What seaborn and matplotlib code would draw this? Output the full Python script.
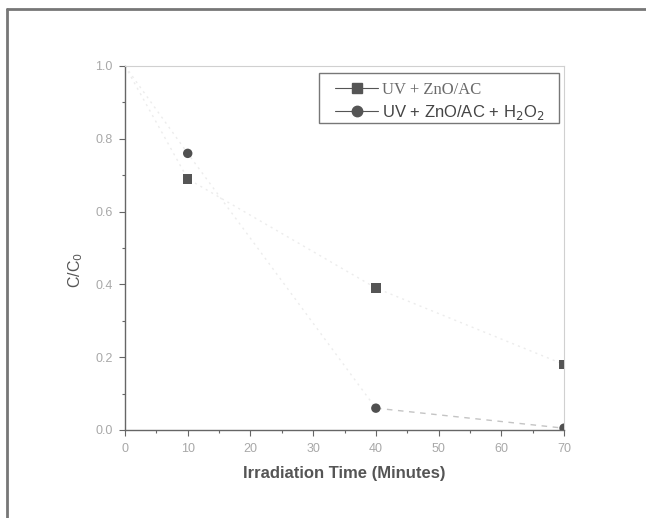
import matplotlib
matplotlib.use("Agg")
import matplotlib.pyplot as plt
from matplotlib.lines import Line2D
from matplotlib.patches import Rectangle
import seaborn as sns
import pandas as pd

# Data
time_min = [0, 10, 40, 70]
uv_zno_ac = [1.0, 0.69, 0.39, 0.18]
uv_zno_ac_h2o2 = [1.0, 0.76, 0.06, 0.005]
series_names = ["UV + ZnO/AC", "UV + ZnO/AC + H$_2$O$_2$"]

sns.set_theme(style="white")
plt.rcParams['font.family'] = ['Liberation Sans', 'DejaVu Sans']

fig = plt.figure(figsize=(6.46, 5.18), dpi=100)
ax = fig.add_axes([125/646, 1 - 430/518, (564-125)/646, (430-66)/518])

df = pd.DataFrame({
    "t": time_min * 2,
    "c": uv_zno_ac + uv_zno_ac_h2o2,
    "s": [series_names[0]] * len(time_min) + [series_names[1]] * len(time_min),
})

# faint connecting lines
ax.plot(time_min, uv_zno_ac, color="#ececec", lw=1.0, ls=(0, (1.5, 3)), zorder=1)
ax.plot(time_min[:3], uv_zno_ac_h2o2[:3], color="#ececec", lw=1.0, ls=(0, (1.5, 3)), zorder=1)
ax.plot(time_min[2:], uv_zno_ac_h2o2[2:], color="#c4c4c4", lw=1.0, ls=(0, (4, 4)), zorder=1)

mk = df[df["t"] > 0]
sns.scatterplot(data=mk, x="t", y="c", style="s", markers={series_names[0]: "s", series_names[1]: "o"},
                hue="s", palette={series_names[0]: "#555555", series_names[1]: "#505050"},
                s=46, edgecolor="none", ax=ax, legend=False, zorder=3)

ax.set_xlim(0, 70)
ax.set_ylim(0, 1.0)
ax.set_xticks([0, 10, 20, 30, 40, 50, 60, 70])
ax.set_yticks([0.0, 0.2, 0.4, 0.6, 0.8, 1.0])
ax.set_yticklabels(["0.0", "0.2", "0.4", "0.6", "0.8", "1.0"])
ax.set_xticks(range(5, 70, 10), minor=True)
ax.set_yticks([0.1, 0.3, 0.5, 0.7, 0.9], minor=True)
ax.tick_params(axis="both", which="major", direction="out", length=4, width=0.8,
               color="#666666", labelcolor="#a8a8a8", labelsize=9, pad=5,
               bottom=True, left=True)
ax.tick_params(axis="both", which="minor", direction="out", length=2.5, width=0.8,
               color="#666666", bottom=True, left=True)

for side in ["left", "bottom"]:
    ax.spines[side].set_color("#666666")
    ax.spines[side].set_linewidth(1.0)
for side in ["top", "right"]:
    ax.spines[side].set_color("#d0d0d0")
    ax.spines[side].set_linewidth(0.8)

ax.set_xlabel("Irradiation Time (Minutes)", fontsize=12, fontweight="bold",
              color="#555555")
ax.xaxis.set_label_coords(0.5, -0.099)
ax.set_ylabel("C/C$_0$", fontsize=11.5, color="#555555")
ax.yaxis.set_label_coords(-0.09, 0.44)

handles = [
    Line2D([], [], color="#555555", marker="s", markersize=6.5, lw=0.8),
    Line2D([], [], color="#555555", marker="o", markersize=7.5, lw=0.8),
]
leg = ax.legend(handles, series_names, loc="center left", bbox_to_anchor=(0.478, 0.901),
                frameon=False, fontsize=12,
                handlelength=2.6, borderpad=0.0, labelspacing=0.3, handletextpad=0.2,
                borderaxespad=0.0)
texts = leg.get_texts()
texts[0].set_fontfamily(["Liberation Serif", "DejaVu Serif"])
texts[0].set_color("#6a6a6a")
texts[1].set_color("#444444")
# legend box
ax.add_patch(Rectangle((0.442, 0.843), 0.547, 0.137, transform=ax.transAxes,
                       fill=False, edgecolor="#777777", lw=1.0, zorder=5))

# outer frame lines (left and top)
fig.add_artist(Line2D([7/646, 7/646], [0, 1 - 9/518], transform=fig.transFigure,
                      color="#777777", lw=2.0))
fig.add_artist(Line2D([7/646, 1], [1 - 9/518, 1 - 9/518], transform=fig.transFigure,
                      color="#777777", lw=2.0))

fig.savefig("out.png", dpi=100)
